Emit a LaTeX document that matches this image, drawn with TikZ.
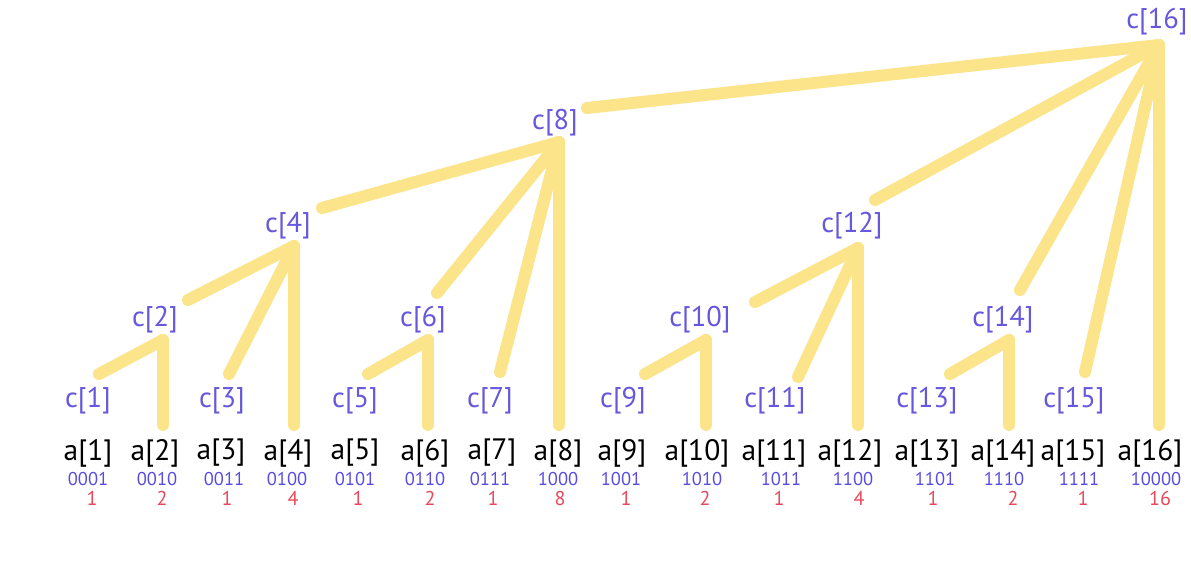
\documentclass[tikz,border=0pt]{standalone}
\usepackage{fontspec}
\setmainfont{PT Sans}
\definecolor{linkyellow}{RGB}{251,228,138}
\definecolor{cblue}{RGB}{102,88,220}
\definecolor{bblue}{RGB}{88,76,226}
\definecolor{lred}{RGB}{232,72,90}
\begin{document}
\begin{tikzpicture}[x=1pt,y=-1pt,
  alabel/.style={inner sep=0pt,anchor=center,text=black,font=\fontsize{29.5}{32}\selectfont},
  clabel/.style={inner sep=0pt,anchor=center,text=cblue,font=\fontsize{28.5}{31}\selectfont},
  blabel/.style={inner sep=0pt,anchor=center,text=bblue,font=\fontsize{18.5}{20}\selectfont},
  dlabel/.style={inner sep=0pt,anchor=center,text=lred,font=\fontsize{20}{22}\selectfont},
  link/.style={draw=linkyellow,line width=12pt,line cap=round,line join=round}]
\useasboundingbox (0,0) rectangle (1191,561);
\fill[white] (0,0) rectangle (1191,561);
% a labels, binary, lowbit
\foreach \i/\x/\bx/\b/\dx/\d in {1/88/88/0001/92/1, 2/155/157/0010/162/2, 3/221/224/0011/227/1, 4/288/287/0100/293/4,
  5/355/355/0101/358/1, 6/425/425/0110/430/2, 7/492/490/0111/493/1, 8/558/558/1000/560/8,
  9/622/621/1001/626/1, 10/697/702/1010/705/2, 11/774/781/1011/779/1, 12/850/853/1100/859/4,
  13/927/935/1101/933/1, 14/1003/1004/1110/1013/2, 15/1073/1079/1111/1083/1, 16/1150/1156/10000/1160/16}{
  \node[alabel] (a\i) at (\x,453) {a[\i]};
  \node[blabel] (b\i) at (\bx,479) {\b};
  \node[dlabel] (d\i) at (\dx,498) {\d};
}
% c labels
\foreach \i/\x/\y in {1/88/401, 3/222/401, 5/355/401, 7/490/401, 9/623/401, 11/775/401, 13/927/401, 15/1074/401,
  2/155/320, 6/423/320, 10/700/320, 14/1003/320, 4/288/226, 12/852/226, 8/555/123, 16/1157/22}{
  \node[clabel] (c\i) at (\x,\y) {c[\i]};
}
% junction points under parent labels
\coordinate (j2) at (163,340);
\coordinate (j4) at (294,246);
\coordinate (j6) at (428,340);
\coordinate (j8) at (559,142);
\coordinate (j10) at (706,340);
\coordinate (j12) at (858,248);
\coordinate (j14) at (1009,340);
\coordinate (j16) at (1159,45);
% free ends near child labels
\coordinate (s1) at (99,374);
\coordinate (s2) at (188,300);
\coordinate (s3) at (229,374);
\coordinate (s4) at (322,208);
\coordinate (s5) at (368,374);
\coordinate (s6) at (437,293);
\coordinate (s7) at (500,372);
\coordinate (s8) at (587,108);
\coordinate (s9) at (645,374);
\coordinate (s10) at (755,302);
\coordinate (s11) at (798,377);
\coordinate (s12) at (875,200);
\coordinate (s13) at (950,374);
\coordinate (s14) at (1020,290);
\coordinate (s15) at (1085,372);
% connectors
\foreach \p in {2,4,6,8,10,12,14,16}{
  \draw[link] (j\p) -- ([yshift=14pt]j\p |- a\p.north);
}
\draw[link] (s1) -- (j2);
\draw[link] (s2) -- (j4);
\draw[link] (s3) -- (j4);
\draw[link] (s5) -- (j6);
\draw[link] (s4) -- (j8);
\draw[link] (s6) -- (j8);
\draw[link] (s7) -- (j8);
\draw[link] (s9) -- (j10);
\draw[link] (s10) -- (j12);
\draw[link] (s11) -- (j12);
\draw[link] (s13) -- (j14);
\draw[link] (s8) -- (j16);
\draw[link] (s12) -- (j16);
\draw[link] (s14) -- (j16);
\draw[link] (s15) -- (j16);
\end{tikzpicture}
\end{document}
